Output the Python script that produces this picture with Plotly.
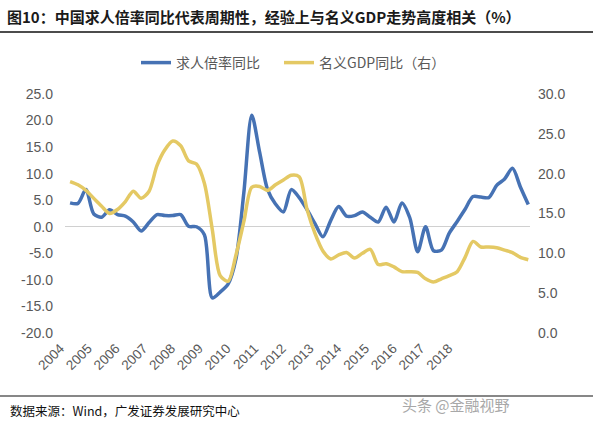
import plotly.graph_objects as go

# ---------------- data ----------------
years = ["2004", "2005", "2006", "2007", "2008", "2009", "2010", "2011",
         "2012", "2013", "2014", "2015", "2016", "2017", "2018"]

# 求人倍率同比 (left axis, %), quarterly samples
job_ratio_yoy = [4.5, 4.4, 7.0, 2.4, 1.8, 3.2, 2.3, 2.0, 0.9, -0.8,
                 0.8, 2.3, 2.1, 2.1, 2.3, 0.1, 0.0, -1.5, -13.4, -12.3,
                 -10.8, -6.0, 6.5, 21.0, 14.0, 7.0, 4.3, 2.8, 7.0, 5.5,
                 3.2, 0.6, -1.9, 1.2, 3.8, 2.0, 2.1, 2.8, 1.8, 0.9,
                 3.7, 0.9, 4.5, 1.7, -4.7, 0.0, -4.5, -4.4, -1.2, 1.0,
                 3.3, 5.7, 5.6, 5.5, 7.8, 9.0, 11.0, 7.5, 4.2]

# 名义GDP同比 (right axis, %)
nominal_gdp_yoy = [19.0, 18.6, 17.9, 16.9, 15.9, 15.0, 15.5, 16.5, 17.8, 16.9,
                   17.8, 21.0, 23.0, 24.1, 23.5, 21.6, 21.2, 18.8, 13.0, 7.2,
                   6.5, 9.8, 14.0, 18.3, 18.4, 17.9, 18.6, 19.2, 19.8, 19.6,
                   15.5, 12.5, 10.3, 9.3, 9.8, 10.1, 9.4, 10.0, 10.5, 8.6,
                   8.7, 8.3, 7.7, 7.7, 7.6, 6.8, 6.4, 6.8, 7.2, 7.7,
                   9.5, 11.5, 10.8, 10.8, 10.7, 10.4, 10.1, 9.5, 9.2]

left_tick_values = [-20, -15, -10, -5, 0, 5, 10, 15, 20, 25]
left_tick_labels = ["-20.0", "-15.0", "-10.0", "-5.0", "0.0", "5.0",
                    "10.0", "15.0", "20.0", "25.0"]
right_tick_values = [0, 5, 10, 15, 20, 25, 30]
right_tick_labels = ["0.0", "5.0", "10.0", "15.0", "20.0", "25.0", "30.0"]

# ---------------- layout constants ----------------
W, H = 593, 423
ML, MR, MT, MB = 65, 63, 94, 90
PW = W - ML - MR
PH = H - MT - MB

x_idx = list(range(len(job_ratio_yoy)))
px_per_unit = 7.9
x0 = -5 / px_per_unit - 0.01
x1 = x0 + PW / px_per_unit
tick_pos = [-0.6 + 3.51 * k for k in range(len(years))]

BLUE = "#4672b4"
YELLOW = "#e4c964"
GREY = "#595959"
CJK = "Noto Sans CJK SC"
LAT = "Liberation Sans, Arial, sans-serif"

fig = go.Figure()
fig.add_trace(go.Scatter(
    x=x_idx, y=job_ratio_yoy, name="求人倍率同比", mode="lines",
    line=dict(color=BLUE, width=3.5, shape="spline", smoothing=0.8),
    yaxis="y", legend="legend"))
fig.add_trace(go.Scatter(
    x=x_idx, y=nominal_gdp_yoy, name="名义GDP同比（右）", mode="lines",
    line=dict(color=YELLOW, width=3.5, shape="spline", smoothing=0.8),
    yaxis="y2", legend="legend2"))


def px_to_paper_y(py):
    return (H - MB - py) / PH


def px_to_paper_x(px):
    return (px - ML) / PW


legend_common = dict(orientation="h", xref="container", yref="container",
                     y=1 - 63 / H, xanchor="left", yanchor="middle",
                     font=dict(family=CJK, size=14, color=GREY),
                     itemwidth=30, bgcolor="rgba(0,0,0,0)")

fig.update_layout(
    width=W, height=H,
    margin=dict(l=ML, r=MR, t=MT, b=MB, pad=0, autoexpand=False),
    paper_bgcolor="white", plot_bgcolor="white",
    showlegend=True,
    legend=dict(x=136 / W, **legend_common),
    legend2=dict(x=279 / W, **legend_common),
    title=dict(text="<b>图10：中国求人倍率同比代表周期性，经验上与名义GDP走势高度相关（%）</b>",
               xref="container", yref="container", x=7 / W, y=1 - 18 / H,
               xanchor="left", yanchor="middle",
               font=dict(family=CJK, size=15, color="#1a1a1a")),
    xaxis=dict(range=[x0, x1], tickmode="array", tickvals=tick_pos,
               ticktext=years, tickangle=-45, showgrid=False, zeroline=False,
               showline=False, ticks="", automargin=False,
               ticklabelstandoff=4, ticklabelshift=-5,
               tickfont=dict(family=LAT, size=13.5, color=GREY)),
    yaxis=dict(range=[-20, 25], tickmode="array", tickvals=left_tick_values,
               ticktext=left_tick_labels, showgrid=False, zeroline=True,
               zerolinecolor="#d0d0d0", zerolinewidth=1, showline=False,
               ticks="", ticklabelstandoff=11, automargin=False,
               tickfont=dict(family=LAT, size=14, color=GREY)),
    yaxis2=dict(range=[0, 30], tickmode="array", tickvals=right_tick_values,
                ticktext=right_tick_labels, overlaying="y", side="right",
                showgrid=False, zeroline=False, showline=False, ticks="",
                ticklabelstandoff=7, automargin=False,
                tickfont=dict(family=LAT, size=14, color=GREY)),
    shapes=[
        dict(type="line", xref="paper", yref="paper",
             x0=px_to_paper_x(0), x1=px_to_paper_x(W),
             y0=px_to_paper_y(32), y1=px_to_paper_y(32),
             line=dict(color="#111111", width=1.5)),
        dict(type="line", xref="paper", yref="paper",
             x0=px_to_paper_x(0), x1=px_to_paper_x(W),
             y0=px_to_paper_y(396), y1=px_to_paper_y(396),
             line=dict(color="#111111", width=1.2)),
    ],
    annotations=[
        dict(text="数据来源：Wind，广发证券发展研究中心", xref="paper", yref="paper",
             x=px_to_paper_x(8), y=px_to_paper_y(410), xanchor="left",
             yanchor="middle", showarrow=False,
             font=dict(family=CJK, size=12.5, color="#111111")),
        dict(text="头条 @金融视野", xref="paper", yref="paper",
             x=px_to_paper_x(512), y=px_to_paper_y(404), xanchor="right",
             yanchor="middle", showarrow=False,
             font=dict(family=CJK, size=15, color="#a8a8a8")),
    ],
)

fig.write_html("out.html",
               config={"displayModeBar": False},
               post_script="document.body.style.margin='0';"
                           "document.body.style.overflow='hidden';")
